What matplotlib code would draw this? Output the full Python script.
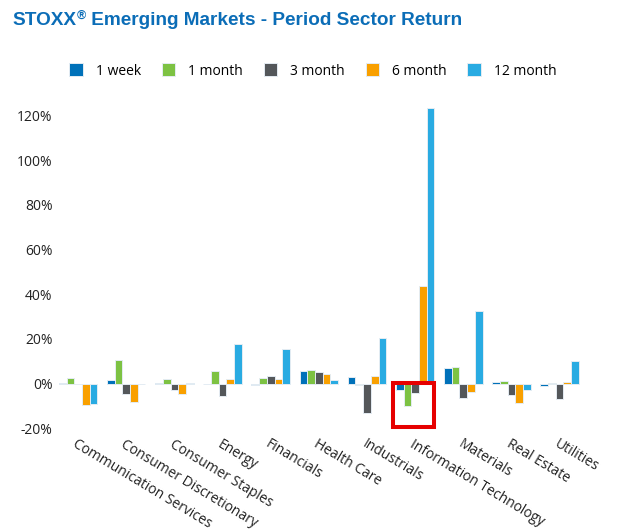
import matplotlib
matplotlib.use("Agg")
import matplotlib.pyplot as plt
import matplotlib.transforms as mtransforms
from matplotlib.patches import Patch, Rectangle
import numpy as np

# sector returns in percent
sectors = ["Communication Services", "Consumer Discretionary", "Consumer Staples",
           "Energy", "Financials", "Health Care", "Industrials",
           "Information Technology", "Materials", "Real Estate", "Utilities"]
periods = ["1 week", "1 month", "3 month", "6 month", "12 month"]
week_1 = [0.1, 1.8, 0.2, -0.1, -0.6, 5.8, 2.9, -3.0, 7.1, 0.9, -1.0]
month_1 = [2.4, 10.8, 2.2, 5.6, 2.7, 6.2, -0.6, -10.0, 7.6, 1.2, 0.2]
month_3 = [-0.3, -4.8, -3.0, -5.5, 3.4, 5.0, -13.0, -4.0, -6.4, -4.9, -7.0]
month_6 = [-9.7, -8.3, -4.8, 1.9, 2.2, 4.2, 3.3, 43.6, -3.7, -8.5, 0.6]
month_12 = [-8.9, -0.2, 0.2, 17.9, 15.6, 1.5, 20.5, 123.5, 32.7, -2.7, 10.0]
yticks = [-20, 0, 20, 40, 60, 80, 100, 120]

colors = ["#0071b9", "#7dc243", "#54575a", "#f9a000", "#29abe2"]
series = [week_1, month_1, month_3, month_6, month_12]

fig = plt.figure(figsize=(6.22, 5.32), dpi=100)
ax = fig.add_axes([0.0868, 0.1949, 0.8516, 0.6171])

x = np.arange(len(sectors))
w = 0.16
for i, vals in enumerate(series):
    ax.bar(x + (i - 2) * w, vals, width=w, color=colors[i],
           edgecolor="#e4ecf3", linewidth=0.7, label=periods[i])

ax.set_xlim(-0.5, len(sectors) - 0.5)
ax.set_ylim(-20, 127)
ax.set_yticks(yticks)
ax.set_yticklabels([f"{t}%" for t in yticks], fontfamily="Open Sans",
                   fontsize=10, color="#222222")
ax.set_xticks(x)
ax.set_xticklabels(sectors, rotation=-31, ha="left", va="top",
                   rotation_mode="anchor", fontfamily="Open Sans",
                   fontsize=10, color="#222222")
shift = mtransforms.ScaledTranslation(-3 / 100, 0, fig.dpi_scale_trans)
for lab in ax.get_xticklabels():
    lab.set_transform(lab.get_transform() + shift)
ax.tick_params(axis="both", length=0)
ax.tick_params(axis="x", pad=6)
ax.tick_params(axis="y", pad=1)
for s in ax.spines.values():
    s.set_visible(False)

# red highlight box around Information Technology short-term returns
it = sectors.index("Information Technology")
ax.add_patch(Rectangle((it - 0.457, -19.4), 0.852, 19.7, fill=False,
                       edgecolor="#e60000", linewidth=2.9, clip_on=False, zorder=5))

handles = [Patch(facecolor=c, edgecolor="#e4ecf3", linewidth=0.7) for c in colors]
fig.legend(handles, periods, loc="center", bbox_to_anchor=(0.503, 0.8665),
           ncol=5, frameon=False, handlelength=0.95, handleheight=1.05,
           handletextpad=0.95, columnspacing=1.5,
           prop={"family": "Open Sans", "size": 10})

# title with a raised, smaller registered sign
title_kw = dict(fontfamily="Liberation Sans", fontweight="bold",
                color="#0b6db7", va="baseline", ha="left")
base_y = 1 - 25 / 532
t1 = fig.text(12 / 622, base_y, "STOXX", fontsize=13.7, **title_kw)
fig.canvas.draw()
r = fig.canvas.get_renderer()
x1 = t1.get_window_extent(r).x1 / fig.bbox.width
t2 = fig.text(x1 + 0.5 / 622, base_y + 6 / 532, "®", fontsize=9, **title_kw)
x2 = t2.get_window_extent(r).x1 / fig.bbox.width
fig.text(x2, base_y, " Emerging Markets - Period Sector Return",
         fontsize=13.7, **title_kw)

fig.savefig("out.png", dpi=100)
